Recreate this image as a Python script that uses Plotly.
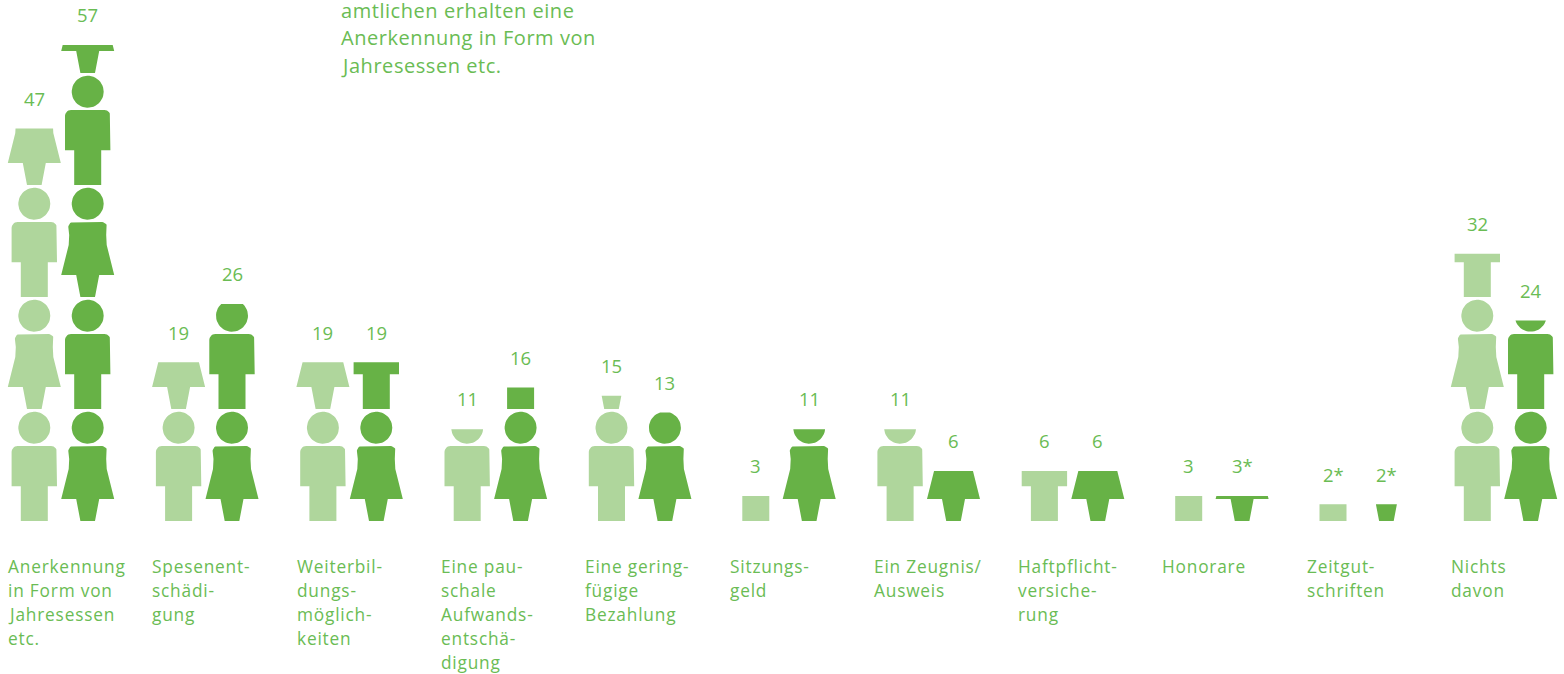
import numpy as np
import plotly.graph_objects as go

categories = [
    ["Anerkennung", "in Form von", "Jahresessen", "etc."],
    ["Spesenent-", "schädi-", "gung"],
    ["Weiterbil-", "dungs-", "möglich-", "keiten"],
    ["Eine pau-", "schale", "Aufwands-", "entschä-", "digung"],
    ["Eine gering-", "fügige", "Bezahlung"],
    ["Sitzungs-", "geld"],
    ["Ein Zeugnis/", "Ausweis"],
    ["Haftpflicht-", "versiche-", "rung"],
    ["Honorare"],
    ["Zeitgut-", "schriften"],
    ["Nichts", "davon"],
]
light_values = [47, 19, 19, 11, 15, 3, 11, 6, 3, 2, 32]
dark_values = [57, 26, 19, 16, 13, 11, 6, 6, 3, 2, 24]
light_labels = ["47", "19", "19", "11", "15", "3", "11", "6", "3", "2*", "32"]
dark_labels = ["57", "26", "19", "16", "13", "11", "6", "6", "3*", "2*", "24"]
note_lines = ["amtlichen erhalten eine", "Anerkennung in Form von", "Jahresessen etc."]

W, H = 1564, 674
BASE_PX = 521
PX_PER_UNIT = 8.35
STEP = 144.3
LIGHT_X, DARK_X, LABEL_X = 34.3, 87.7, 8
LIGHT = "#afd69c"
DARK = "#67b246"
TEXT = "#6abc54"
FONT = "Open Sans"
PERIOD = 112


def arc(cx, cy, r, a0, a1, n=8):
    t = np.radians(np.linspace(a0, a1, n))
    return [(cx + r * np.cos(v), cy + r * np.sin(v)) for v in t]


def mirror(right):
    return right + [(-x, y) for x, y in reversed(right)]


HEAD = arc(0, 93.3, 16, 0, 360, 48)
MAN_BODY = mirror([(13.5, 0), (13.5, 34.7), (22.7, 34.7)] + arc(16.7, 69, 6, 0, 90))
WOMAN_BODY = mirror([(7.3, 0), (11.5, 22), (26.5, 22), (19, 52), (18.5, 62), (19.4, 70)]
                    + arc(14.4, 70, 5, 0, 90))
ICONS = {"m": MAN_BODY, "w": WOMAN_BODY}


def clip_top(poly, top):
    out = []
    for i, (x0, y0) in enumerate(poly):
        x1, y1 = poly[(i + 1) % len(poly)]
        if y0 <= top:
            out.append((x0, y0))
        if (y0 <= top) != (y1 <= top):
            s = (top - y0) / (y1 - y0)
            out.append((x0 + s * (x1 - x0), top))
    return out


def stack_paths(cx, value, first):
    height = value * PX_PER_UNIT
    xs, ys = [], []
    kind = first
    base = 0
    while base < height:
        for part in (ICONS[kind], HEAD):
            poly = clip_top(part, height - base)
            if poly:
                xs += [cx + x for x, _ in poly] + [None]
                ys += [(base + y) / PX_PER_UNIT for _, y in poly] + [None]
        base += PERIOD
        kind = "w" if kind == "m" else "m"
    return xs, ys


def series_trace(name, values, offset, first, color):
    xs, ys = [], []
    for i, v in enumerate(values):
        a, b = stack_paths(offset + i * STEP, v, first)
        xs += a
        ys += b
    return go.Scatter(x=xs, y=ys, name=name, mode="lines", fill="toself",
                      fillcolor=color, line=dict(width=0), hoverinfo="skip")


fig = go.Figure()
fig.add_trace(series_trace("Hell", light_values, LIGHT_X, "m", LIGHT))
fig.add_trace(series_trace("Dunkel", dark_values, DARK_X, "w", DARK))


def spaced(s, sp):
    return f'<span style="letter-spacing:{sp}px">{s}</span>'


anns = []
for vals, labs, off in ((light_values, light_labels, LIGHT_X), (dark_values, dark_labels, DARK_X)):
    for i, (v, lab) in enumerate(zip(vals, labs)):
        anns.append(dict(x=off + i * STEP, y=v, xref="x", yref="y", text=lab, showarrow=False,
                         xanchor="center", yanchor="middle", yshift=30.3,
                         font=dict(family=FONT, size=18.5, color=TEXT)))
for i, lines in enumerate(categories):
    for j, line in enumerate(lines):
        anns.append(dict(x=LABEL_X + i * STEP, y=1 - (566 + 24.1 * j) / H, xref="x", yref="paper",
                         text=spaced(line, 0.8), showarrow=False, xanchor="left", yanchor="middle",
                         xshift=-2, font=dict(family=FONT, size=17.3, color=TEXT)))
for j, line in enumerate(note_lines):
    anns.append(dict(x=341, y=1 - (11 + 27 * j) / H, xref="x", yref="paper", text=spaced(line, 0.55),
                     showarrow=False, xanchor="left", yanchor="middle", xshift=-2,
                     font=dict(family=FONT, size=20, color=TEXT)))

fig.update_layout(
    width=W, height=H, margin=dict(l=0, r=0, t=0, b=0), showlegend=False,
    paper_bgcolor="white", plot_bgcolor="white", annotations=anns,
    xaxis=dict(range=[0, W], visible=False, fixedrange=True),
    yaxis=dict(range=[(BASE_PX - H) / PX_PER_UNIT, BASE_PX / PX_PER_UNIT], visible=False, fixedrange=True),
)
fig.write_html("out.html", config=dict(displayModeBar=False),
               post_script="document.body.style.margin='0';document.body.style.overflow='hidden';")
